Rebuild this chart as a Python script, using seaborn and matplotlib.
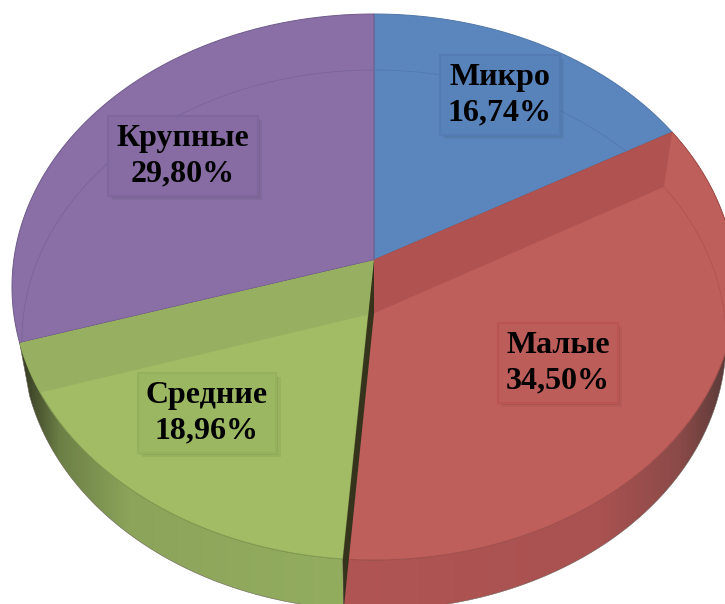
import numpy as np
import matplotlib
matplotlib.use('Agg')
import matplotlib.pyplot as plt
import matplotlib.patheffects as pe
from matplotlib.patches import PathPatch, Polygon
from matplotlib.path import Path
from matplotlib.transforms import Affine2D, Transform
import seaborn as sns

categories = ['Микро', 'Малые', 'Средние', 'Крупные']
shares = [16.74, 34.50, 18.96, 29.80]
share_labels = ['16,74%', '34,50%', '18,96%', '29,80%']

slice_colors = ['#5B86BD', '#BF5F5B', '#A1BC65', '#896FA6']
edge_colors = ['#4F76A8', '#A34D4A', '#7F9A4C', '#6F5A8A']
box_colors = ['#5882BA', '#BD5D5A', '#9CB762', '#866CA2']
box_edges = ['#547CB2', '#BA5553', '#96B15D', '#80679B']
label_pos = [(500, 95), (558, 363), (207, 413), (183, 156)]

# perspective of the disc: same circle, apex pushed up from the ellipse centre
TILT = 0.0989
TOP = (374, 287, 362, 273)
BOTTOM = (374, 340, 352, 270)


def tilt_xy(uv, disc):
    xc, yc, rx, ry = disc
    u, v = uv[:, 0], uv[:, 1]
    w = 1 + TILT * v
    x = u * np.sqrt(1 - TILT ** 2) / w
    y = (v + TILT) / w
    return np.column_stack([xc + x * rx, yc - y * ry])


class DiscTilt(Transform):
    input_dims = 2
    output_dims = 2

    def __init__(self, disc):
        super().__init__()
        self.disc = disc

    def transform_non_affine(self, values):
        return tilt_xy(np.asarray(values, dtype=float), self.disc)

    def transform_path_non_affine(self, path):
        # flatten the bezier arcs first, they don't survive a projective map
        big = path.transformed(Affine2D().scale(3000))
        poly = big.to_polygons(closed_only=False)[0] / 3000
        return Path(tilt_xy(poly, self.disc))


def rim(start, end, disc):
    t = 2 * np.pi * np.linspace(start, end, 240) / 100
    return tilt_xy(np.column_stack([np.sin(t), np.cos(t)]), disc)


sns.set_theme(style='white')
plt.rcParams['font.family'] = ['Liberation Serif', 'DejaVu Serif']

fig = plt.figure(figsize=(7.25, 6.04), dpi=100)
ax = fig.add_axes([0, 0, 1, 1])

wedges, _ = ax.pie(shares, colors=sns.color_palette(slice_colors), startangle=90,
                   counterclock=False, wedgeprops={'linewidth': 0.7})
ax.set_aspect('auto')
ax.set_xlim(0, 725)
ax.set_ylim(604, 0)
ax.axis('off')

top_tf = DiscTilt(TOP) + ax.transData
bottom_tf = DiscTilt(BOTTOM) + ax.transData
for w, ec in zip(wedges, edge_colors):
    w.set_transform(top_tf)
    w.set_edgecolor(ec)
    w.set_zorder(3)

bounds = np.cumsum([0] + shares)

# side wall with horizontal shading
green_x = [0, 25, 60, 130, 345, 346]
green_c = np.array([[58, 64, 38], [58, 64, 38], [108, 128, 70], [140, 164, 90], [147, 173, 95], [147, 173, 95]]) / 255
red_x = [340, 345, 600, 680, 722, 725]
red_c = np.array([[176, 85, 84], [176, 85, 84], [169, 82, 81], [139, 74, 72], [94, 60, 58], [90, 58, 56]]) / 255
xs = np.linspace(0, 725, 726)
for i, (gx, gc) in zip([2, 1], [(green_x, green_c), (red_x, red_c)]):
    wall = np.vstack([rim(bounds[i], bounds[i + 1], TOP), rim(bounds[i + 1], bounds[i], BOTTOM)])
    patch = Polygon(wall, closed=True, fc='none', ec='#6a6058', lw=0.4, zorder=2)
    ax.add_patch(patch)
    shade = np.column_stack([np.interp(xs, gx, gc[:, k]) for k in range(3)])[None, :, :]
    im = ax.imshow(shade, extent=(0, 725, 604, 0), aspect='auto', zorder=1)
    im.set_clip_path(patch)
ax.set_xlim(0, 725)
ax.set_ylim(604, 0)

# inner radial faces seen through the slices
apex = tilt_xy(np.array([[0.0, 0.0]]), TOP)
apex2 = tilt_xy(np.array([[0.0, 0.0]]), BOTTOM)
for b, col, clip in [(bounds[1], '#B05250', wedges[1]), (bounds[3], '#97AF60', wedges[2])]:
    pts = np.vstack([apex, rim(b, b, TOP)[:1], rim(b, b, BOTTOM)[:1], apex2])
    face = Polygon(pts, closed=True, fc=col, ec='none', zorder=4)
    ax.add_patch(face)
    face.set_clip_path(clip)

b = bounds[2]
pts = np.vstack([apex, rim(b, b, TOP)[:1], rim(b, b, BOTTOM)[:1], apex2])
ax.add_patch(Polygon(pts, closed=True, fc='#35331C', ec='none', zorder=5))

# back edge of the lower disc, faint through the top
ring = [(bounds[3], 100, 3, '#7A6496'), (0, bounds[1], 0, '#5079AE'), (bounds[1], bounds[2], 1, '#AE5451')]
for start, end, idx, col in ring:
    t = 2 * np.pi * np.linspace(start, end, 240) / 100
    line = PathPatch(Path(np.column_stack([np.sin(t), np.cos(t)])), fc='none', ec=col, lw=0.6,
                     transform=bottom_tf, zorder=4.5)
    ax.add_patch(line)
    line.set_clip_path(wedges[idx])

for i, name in enumerate(categories):
    t = ax.text(label_pos[i][0], label_pos[i][1], name + '\n' + share_labels[i],
                ha='center', va='center', fontsize=23, fontweight='bold', color='black',
                linespacing=1.27, zorder=7,
                bbox=dict(boxstyle='square,pad=0.26', fc=box_colors[i], ec=box_edges[i], lw=1.5))
    t.get_bbox_patch().set_path_effects([
        pe.SimplePatchShadow(offset=(3, -3), shadow_rgbFace='#000000', alpha=0.05),
        pe.SimplePatchShadow(offset=(1.5, -1.5), shadow_rgbFace='#000000', alpha=0.05),
        pe.Normal()])

fig.savefig('out.png', dpi=100)
